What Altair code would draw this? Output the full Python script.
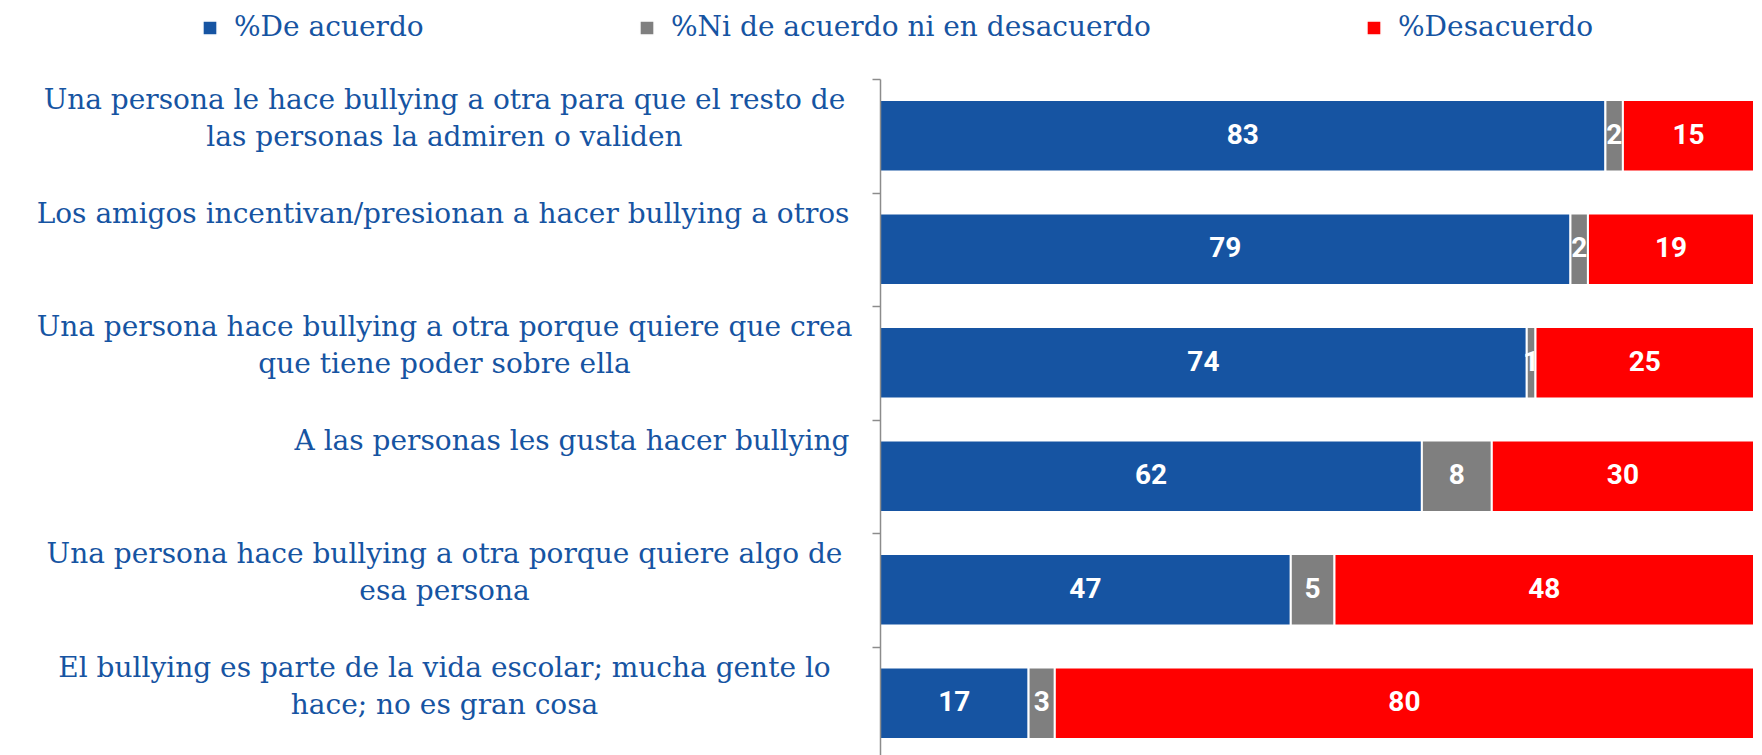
import altair as alt
import pandas as pd

categories = [
    "Una persona le hace bullying a otra para que el resto de|las personas la admiren o validen",
    "Los amigos incentivan/presionan a hacer bullying a otros",
    "Una persona hace bullying a otra porque quiere que crea|que tiene poder sobre ella",
    "A las personas les gusta hacer bullying",
    "Una persona hace bullying a otra porque quiere algo de|esa persona",
    "El bullying es parte de la vida escolar; mucha gente lo|hace; no es gran cosa",
]
series = ["%De acuerdo", "%Ni de acuerdo ni en desacuerdo", "%Desacuerdo"]
de_acuerdo = [83, 79, 74, 62, 47, 17]
ni_acuerdo = [2, 2, 1, 8, 5, 3]
desacuerdo = [15, 19, 25, 30, 48, 80]
colors = ["#1654A2", "#7F7F7F", "#FF0000"]

rows = []
for i, cat in enumerate(categories):
    for j, (s, vals) in enumerate(zip(series, [de_acuerdo, ni_acuerdo, desacuerdo])):
        rows.append({"pregunta": cat, "serie": s, "orden": j, "valor": vals[i]})
df = pd.DataFrame(rows)

blue = "#1654A2"
two_line = "indexof(datum.value, '|') >= 0"

y_enc = alt.Y(
    "pregunta:N",
    sort=categories,
    scale=alt.Scale(paddingInner=0.37, paddingOuter=0.185),
    axis=alt.Axis(
        title=None,
        labelExpr="split(datum.label, '|')",
        labelFont="DejaVu Serif",
        labelFontSize=28,
        labelColor=blue,
        labelLimit=1000,
        labelLineHeight=37,
        labelBaseline="alphabetic",
        labelOffset=29.75,
        labelAlign={"condition": {"test": two_line, "value": "center"}, "value": "right"},
        labelPadding={"condition": {"test": two_line, "value": 428}, "value": 23},
        tickSize=8,
        tickOffset=-56.75,
        tickColor="#8C8C8C",
        tickWidth=1.5,
        domainColor="#8C8C8C",
        domainWidth=1.5,
        grid=False,
        zindex=1,
    ),
)

bars = alt.Chart(df).mark_bar(stroke="white", strokeWidth=2).encode(
    y=y_enc,
    x=alt.X("valor:Q", stack="zero", scale=alt.Scale(domain=[0, 100]), axis=None),
    color=alt.Color(
        "serie:N",
        scale=alt.Scale(domain=series, range=colors),
        legend=alt.Legend(
            title=None,
            orient="none",
            legendX=-684,
            legendY=-65,
            direction="horizontal",
            columns=3,
            columnPadding=209,
            symbolType="square",
            symbolSize=200,
            labelFont="DejaVu Serif",
            labelFontSize=28,
            labelColor=blue,
            labelLimit=1000,
            labelOffset=10,
            padding=0,
        ),
    ),
    order=alt.Order("orden:Q"),
)

labels = alt.Chart(df).transform_window(
    cum="sum(valor)", groupby=["pregunta"], sort=[{"field": "orden"}], frame=[None, 0]
).transform_calculate(
    mid="datum.cum - datum.valor / 2"
).mark_text(
    color="white", font="Roboto", fontWeight="bold", fontSize=28, baseline="middle"
).encode(
    y=alt.Y("pregunta:N", sort=categories),
    x=alt.X("mid:Q", scale=alt.Scale(domain=[0, 100]), axis=None),
    text=alt.Text("valor:Q"),
)

chart = alt.layer(bars, labels).properties(
    width=874,
    height=681,
    autosize=alt.AutoSizeParams(type="none"),
    padding={"left": 872, "top": 71, "right": 0, "bottom": 0},
).configure_view(strokeWidth=0)

chart.save("out.html", embed_options={"renderer": "svg", "actions": False})
